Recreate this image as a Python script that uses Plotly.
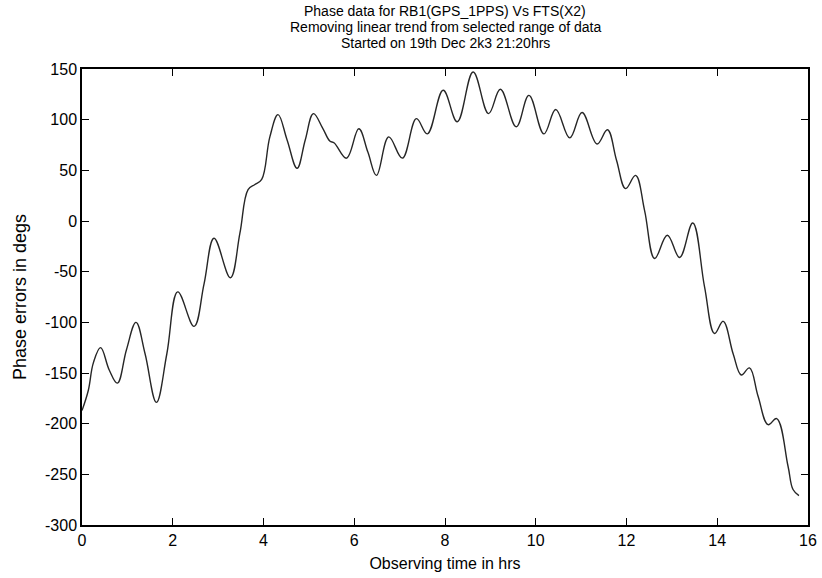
import plotly.graph_objects as go

# Observing time (hrs) and detrended phase error (degrees)
hours = [0.00, 0.14, 0.25, 0.41, 0.60, 0.78, 0.98, 1.19, 1.39, 1.64,
         1.87, 2.11, 2.47, 2.69, 2.91, 3.27, 3.48, 3.66, 3.81, 3.96,
         4.14, 4.32, 4.52, 4.74, 4.92, 5.10, 5.30, 5.46, 5.56, 5.83,
         6.10, 6.30, 6.49, 6.76, 7.06, 7.37, 7.61, 7.96, 8.27, 8.62,
         8.96, 9.22, 9.57, 9.85, 10.18, 10.44, 10.75, 11.02, 11.35, 11.58,
         11.78, 11.98, 12.20, 12.40, 12.62, 12.90, 13.17, 13.46, 13.72, 13.94,
         14.13, 14.35, 14.53, 14.71, 14.90, 15.12, 15.31, 15.56, 15.67, 15.80]
phase = [-187, -167, -140, -125, -147, -160, -127, -100, -131, -179,
         -131, -70, -104, -62, -17, -56, -12, 31, 36, 41,
         83, 105, 80, 52, 80, 106, 92, 79, 77, 62,
         91, 68, 45, 83, 62, 101, 86, 129, 98, 147,
         106, 130, 93, 124, 86, 110, 82, 107, 76, 90,
         60, 32, 45, 10, -37, -14, -36, -2, -65, -111,
         -99, -131, -152, -145, -173, -201, -195, -242, -265, -271]

x_ticks = [0, 2, 4, 6, 8, 10, 12, 14, 16]
y_ticks = [150, 100, 50, 0, -50, -100, -150, -200, -250, -300]

title_lines = [
    "Phase data for RB1(GPS_1PPS) Vs FTS(X2)",
    "Removing linear trend from selected range of data",
    "Started on 19th Dec 2k3 21:20hrs",
]

FONT = "Liberation Sans, Arial, Helvetica, sans-serif"

fig = go.Figure()
fig.add_trace(go.Scatter(
    x=hours, y=phase, mode="lines",
    line=dict(color="#262626", width=1.4, shape="spline", smoothing=1.1),
    showlegend=False, hoverinfo="skip",
))

W, H = 822, 578
L, R, T, B = 82, 14, 69, 53

axis_common = dict(
    showline=True, linecolor="black", linewidth=1.5, mirror="ticks",
    ticks="inside", ticklen=7, tickwidth=1, tickcolor="black",
    showgrid=False, zeroline=False, automargin=False,
    tickfont=dict(family=FONT, size=16, color="black"),
)

fig.update_layout(
    width=W, height=H,
    margin=dict(l=L, r=R, t=T, b=B),
    paper_bgcolor="white", plot_bgcolor="white",
    font=dict(family=FONT, color="black"),
    xaxis=dict(range=[0, 16], tickvals=x_ticks,
               ticktext=[str(v) for v in x_ticks],
               title=dict(text="Observing time in hrs",
                          font=dict(family=FONT, size=16), standoff=10),
               **axis_common),
    yaxis=dict(range=[-300, 150], tickvals=y_ticks,
               ticktext=[str(v) for v in y_ticks],
               title=dict(text="Phase errors in degs",
                          font=dict(family=FONT, size=18), standoff=14),
               **axis_common),
)

# Three-line heading, placed line by line above the plot frame
plot_h = H - T - B
for i, line in enumerate(title_lines):
    py = 11 + 16 * i
    fig.add_annotation(
        text=line, showarrow=False,
        xref="paper", yref="paper",
        x=0.5, y=(H - B - py) / plot_h,
        xanchor="center", yanchor="middle",
        borderpad=0,
        font=dict(family=FONT, size=14, color="black"),
    )

fig.write_html("out.html")
